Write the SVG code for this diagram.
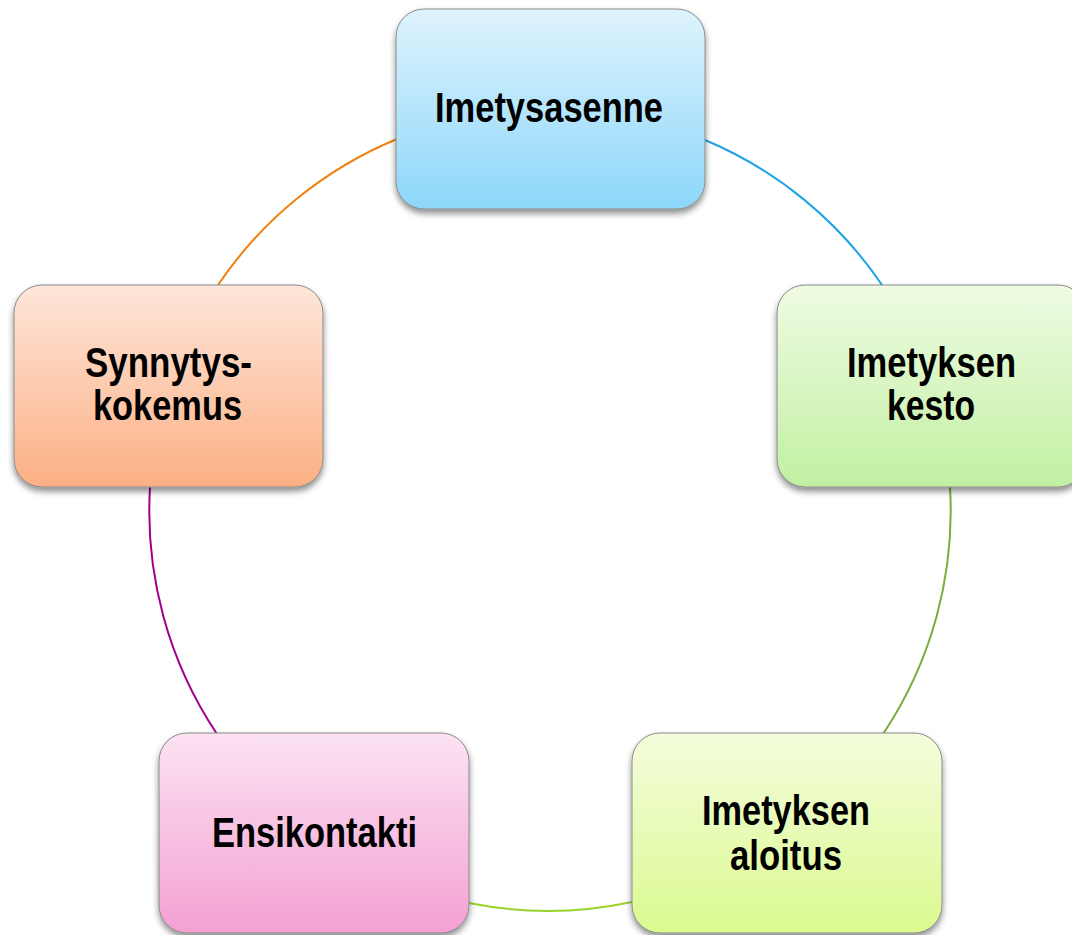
<svg xmlns="http://www.w3.org/2000/svg" width="1072" height="935" viewBox="0 0 1072 935">
<style>
.box{stroke:#8a8a8a;stroke-width:1;filter:url(#sh)}
.lbl{font-family:"Liberation Sans Narrow","Arial Narrow","Liberation Sans",Arial,sans-serif;font-weight:bold;font-size:42px;fill:#000;text-anchor:middle}
.arc{fill:none;stroke-width:2}
</style>
<defs>
<filter id="sh" x="-10%" y="-10%" width="120%" height="125%">
<feDropShadow dx="0" dy="4" stdDeviation="3" flood-color="#000" flood-opacity="0.45"/>
</filter>
<linearGradient id="gBlue" x1="0" y1="0" x2="0" y2="1"><stop offset="0" stop-color="#dff3fd"/><stop offset="1" stop-color="#8cd7fa"/></linearGradient>
<linearGradient id="gGreen" x1="0" y1="0" x2="0" y2="1"><stop offset="0" stop-color="#effbe3"/><stop offset="1" stop-color="#c1f0a2"/></linearGradient>
<linearGradient id="gLime" x1="0" y1="0" x2="0" y2="1"><stop offset="0" stop-color="#f4fcdc"/><stop offset="1" stop-color="#dbfa90"/></linearGradient>
<linearGradient id="gPink" x1="0" y1="0" x2="0" y2="1"><stop offset="0" stop-color="#fce3f2"/><stop offset="1" stop-color="#f3a0d3"/></linearGradient>
<linearGradient id="gOrange" x1="0" y1="0" x2="0" y2="1"><stop offset="0" stop-color="#fee6da"/><stop offset="1" stop-color="#fbb084"/></linearGradient>
</defs>
<g id="connectors">
<path class="arc" stroke="#1ea3e3" d="M 705 140 A 401 401 0 0 1 882 285"/>
<path class="arc" stroke="#78ae3c" d="M 950 487 A 401 401 0 0 1 883 734"/>
<path class="arc" stroke="#9ad22a" d="M 632 902 A 401 401 0 0 1 469 903"/>
<path class="arc" stroke="#a0008c" d="M 217 734 A 401 401 0 0 1 150 487"/>
<path class="arc" stroke="#ef820e" d="M 218 285 A 401 401 0 0 1 397 139"/>
</g>
<g id="node-imetysasenne">
<rect class="box" x="396" y="9" width="309" height="200" rx="28" fill="url(#gBlue)"/>
<text class="lbl" x="549" y="122" textLength="228" lengthAdjust="spacingAndGlyphs">Imetysasenne</text>
</g>
<g id="node-imetyksen-kesto">
<rect class="box" x="777" y="285" width="309" height="202" rx="28" fill="url(#gGreen)"/>
<text class="lbl" x="931.5" y="377" textLength="169" lengthAdjust="spacingAndGlyphs">Imetyksen</text>
<text class="lbl" x="931" y="420" textLength="88" lengthAdjust="spacingAndGlyphs">kesto</text>
</g>
<g id="node-imetyksen-aloitus">
<rect class="box" x="632" y="733" width="310" height="200" rx="28" fill="url(#gLime)"/>
<text class="lbl" x="786" y="825" textLength="168" lengthAdjust="spacingAndGlyphs">Imetyksen</text>
<text class="lbl" x="786" y="870" textLength="112" lengthAdjust="spacingAndGlyphs">aloitus</text>
</g>
<g id="node-ensikontakti">
<rect class="box" x="159" y="733" width="310" height="200" rx="28" fill="url(#gPink)"/>
<text class="lbl" x="314.5" y="847" textLength="205" lengthAdjust="spacingAndGlyphs">Ensikontakti</text>
</g>
<g id="node-synnytyskokemus">
<rect class="box" x="14" y="285" width="309" height="202" rx="28" fill="url(#gOrange)"/>
<text class="lbl" x="168.5" y="377" textLength="167" lengthAdjust="spacingAndGlyphs">Synnytys-</text>
<text class="lbl" x="167.5" y="420" textLength="149" lengthAdjust="spacingAndGlyphs">kokemus</text>
</g>
</svg>
